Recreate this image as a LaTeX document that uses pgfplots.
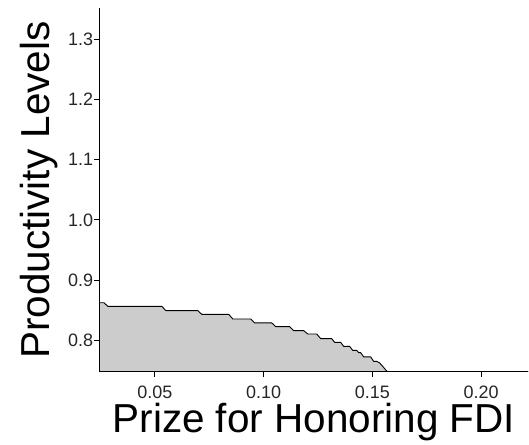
\documentclass[border=0pt]{standalone}
\usepackage{fontspec}
\setmainfont{Liberation Sans}
\usepackage{pgfplots}
\pgfplotsset{compat=1.18}
\definecolor{shade}{RGB}{204,204,204}
\begin{document}
\begin{tikzpicture}
\begin{axis}[name=ax, scale only axis, width=429.7pt, height=364pt,
  xmin=0.0244, xmax=0.2217, ymin=0.7476, ymax=1.3514,
  axis lines=left, axis line style={-, line width=1.1pt, black},
  axis on top,
  tick align=outside, major tick length=5pt, tick style={black, line width=0.9pt},
  xtick={0.05,0.1,0.15,0.2}, xticklabels={0.05,0.10,0.15,0.20},
  ytick={0.8,0.9,1.0,1.1,1.2,1.3}, yticklabels={0.8,0.9,1.0,1.1,1.2,1.3},
  ticklabel style={font=\fontsize{18}{21}\selectfont, text=black!85},
  xticklabel style={anchor=north, inner sep=0pt, yshift=-8.5pt},
  yticklabel style={inner sep=0pt, xshift=-1pt},
  xlabel={Prize for Honoring FDI}, ylabel={Productivity Levels},
  label style={font=\fontsize{40.5}{48}\selectfont},
  xlabel style={at={(axis description cs:0.5,-0.1670)}, anchor=base},
  ylabel style={at={(axis description cs:-0.1147,0.5)}, anchor=base},
]
\addplot[draw=none, fill=shade] coordinates {
(0.0244,0.8625) (0.02658,0.8625) (0.02842,0.8564) (0.05321,0.8564) (0.05505,0.8493)
(0.06974,0.8493) (0.07158,0.8431) (0.08398,0.8431) (0.08581,0.8355)
(0.09408,0.8355) (0.09591,0.8289) (0.10372,0.8289) (0.10556,0.8227)
(0.11198,0.8227) (0.11382,0.8161) (0.11841,0.8161) (0.12025,0.8106)
(0.12438,0.8106) (0.12622,0.8028) (0.13127,0.8028) (0.13264,0.7967)
(0.13540,0.7967) (0.13678,0.7900) (0.13953,0.7900) (0.14091,0.7834)
(0.14275,0.7834) (0.14366,0.7796) (0.14458,0.7796) (0.14596,0.7725)
(0.14917,0.7725) (0.15055,0.7652) (0.15193,0.7652) (0.15331,0.7625)
(0.15468,0.7570) (0.15606,0.7510) (0.15698,0.7476) (0.0244,0.7476)
} -- cycle;
\addplot[black, line width=0.9pt, line join=round] coordinates {
(0.0244,0.8625) (0.02658,0.8625) (0.02842,0.8564) (0.05321,0.8564) (0.05505,0.8493)
(0.06974,0.8493) (0.07158,0.8431) (0.08398,0.8431) (0.08581,0.8355)
(0.09408,0.8355) (0.09591,0.8289) (0.10372,0.8289) (0.10556,0.8227)
(0.11198,0.8227) (0.11382,0.8161) (0.11841,0.8161) (0.12025,0.8106)
(0.12438,0.8106) (0.12622,0.8028) (0.13127,0.8028) (0.13264,0.7967)
(0.13540,0.7967) (0.13678,0.7900) (0.13953,0.7900) (0.14091,0.7834)
(0.14275,0.7834) (0.14366,0.7796) (0.14458,0.7796) (0.14596,0.7725)
(0.14917,0.7725) (0.15055,0.7652) (0.15193,0.7652) (0.15331,0.7625)
(0.15468,0.7570) (0.15606,0.7510) (0.15698,0.7476) (0.2217,0.7476)
};
\end{axis}
\path ([xshift=-99.3pt,yshift=-70.7pt]ax.south west) rectangle ([yshift=8.3pt]ax.north east);
\end{tikzpicture}
\end{document}
